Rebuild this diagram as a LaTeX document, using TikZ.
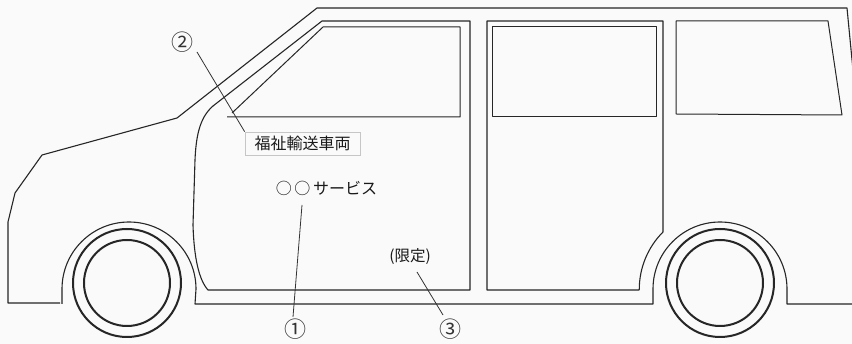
\documentclass[tikz,border=0pt]{standalone}
\usepackage{fontspec}
\newfontfamily\jp{Noto Sans CJK JP}
\begin{document}
\begin{tikzpicture}[x=1pt,y=-1pt,
  body/.style={draw=black!85,line width=1.1pt,line join=round},
  win/.style={draw=black!85,line width=1pt,line join=round},
  tire/.style={draw=black!85,line width=2pt},
  leader/.style={draw=black!80,line width=0.8pt},
  lbl/.style={font=\jp\fontsize{16}{16}\selectfont,text=black!90,inner sep=1pt},
  num/.style={font=\jp\fontsize{22}{22}\selectfont,text=black!80,inner sep=0pt}]
\useasboundingbox (0,0) rectangle (852,344);
\fill[gray!4] (0,0) rectangle (852,344);
% outer body
\draw[body] (60,303) -- (8,303) -- (8,222) -- (15,193) -- (42,155) -- (177,118) -- (317,8) -- (847,8) -- (853,70);
\draw[body] (62,304) -- (62,289) arc[start angle=180,end angle=360,radius=67] -- (195,304) -- (653,304) -- (653,289) arc[start angle=180,end angle=360,radius=67] -- (787,304) -- (853,304);
% front door
\draw[body] (470,21) -- (322,21) -- (213,106) .. controls (199,118) and (196,138) .. (195,160) -- (193,225) .. controls (194,258) and (199,280) .. (208,290) -- (470,290) -- cycle;
% front window
\draw[win] (227,117) -- (460,117) -- (460,27) -- (323,27) -- (232,113);
% sliding door
\draw[body] (487,21) -- (663,21) -- (663,232) arc[start angle=225,end angle=180,radius=81] -- (639,290) -- (487,290) -- cycle;
\draw[win] (492,27) rectangle (656,117);
% rear window
\draw[win] (676,21) -- (828,21) -- (842,115) -- (676,114) -- cycle;
% tires
\draw[tire] (127,283) circle[radius=54];
\draw[tire] (127,283) circle[radius=43];
\draw[tire] (720,283) circle[radius=54];
\draw[tire] (720,283) circle[radius=43];
% labels
\node[lbl,draw=gray!45,fill=gray!4,minimum width=115pt,minimum height=23pt,line width=0.8pt] (sign) at (302.5,143.5) {福祉輸送車両};
\node[lbl] (svc) at (326.5,188) {○\,○\,サービス};
\node[lbl,font=\jp\fontsize{15.5}{15.5}\selectfont] (lim) at (410,257) {(限定)};
\node[num] (n1) at (295,329) {①};
\node[num] (n2) at (182,42) {②};
\node[num] (n3) at (450,329) {③};
\coordinate (a1) at (302,205);
\coordinate (a3) at (417,272);
\coordinate (b1) at (293,317);
\coordinate (b2) at (197,52);
\coordinate (b3) at (443,315);
\draw[leader] (b1) -- (a1);
\draw[leader] (b2) -- (sign.north west);
\draw[leader] (b3) -- (a3);
\end{tikzpicture}
\end{document}
